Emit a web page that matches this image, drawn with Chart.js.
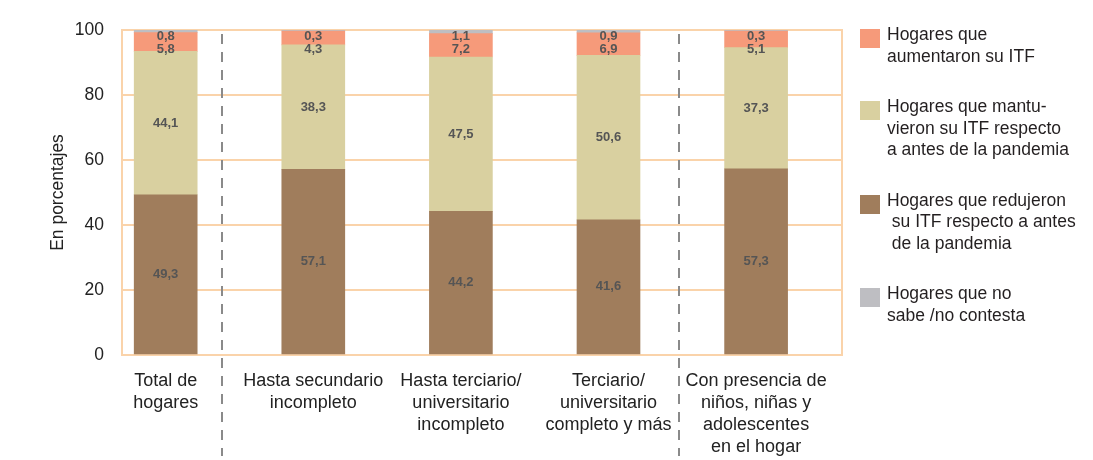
<!DOCTYPE html>
<html><head><meta charset="utf-8">
<script src="https://cdn.jsdelivr.net/npm/chart.js@4"></script>
<style>
html,body{margin:0;padding:0;background:#fff;}
#wrap{position:relative;width:1093px;height:460px;overflow:hidden;}
#c{position:absolute;left:0;top:0;}
#legend{position:absolute;left:860px;top:24px;font:17.5px "Liberation Sans",Arial,sans-serif;color:#231f20;}
.item{display:flex;align-items:flex-start;margin-bottom:29px;}
.sw{width:20px;height:19px;margin-top:5px;margin-right:7px;flex:none;}
.txt{line-height:21.5px;white-space:pre;}
</style></head><body>
<div id="wrap"><canvas id="c" width="1093" height="460"></canvas><div id="legend"></div></div>
<script>
// ---- data ----
const categories = [
  ["Total de", "hogares"],
  ["Hasta secundario", "incompleto"],
  ["Hasta terciario/", "universitario", "incompleto"],
  ["Terciario/", "universitario", "completo y más"],
  ["Con presencia de", "niños, niñas y", "adolescentes", "en el hogar"]
];
const redujeron   = [49.3, 57.1, 44.2, 41.6, 57.3];
const mantuvieron = [44.1, 38.3, 47.5, 50.6, 37.3];
const aumentaron  = [5.8, 4.3, 7.2, 6.9, 5.1];
const noSabe      = [0.8, 0.3, 1.1, 0.9, 0.3];
const yTicks = [0, 20, 40, 60, 80, 100];
const legendRedujeron   = ["Hogares que redujeron", " su ITF respecto a antes", " de la pandemia"];
const legendMantuvieron = ["Hogares que mantu-", "vieron su ITF respecto", "a antes de la pandemia"];
const legendAumentaron  = ["Hogares que", "aumentaron su ITF"];
const legendNoSabe      = ["Hogares que no", "sabe /no contesta"];

// ---- styles ----
const COL_RED = '#A07D5C', COL_MAN = '#D9D0A0', COL_AUM = '#F69A7A', COL_NS = '#BEBEC2';
const FRAME = '#FAD3AA';
const FONT = '"Liberation Sans", Arial, sans-serif';

const datasets = [
  {label: legendRedujeron.join(' ').replace(/\s+/g,' '), legendLines: legendRedujeron, data: redujeron, backgroundColor: COL_RED},
  {label: legendMantuvieron.join(' '), legendLines: legendMantuvieron, data: mantuvieron, backgroundColor: COL_MAN},
  {label: legendAumentaron.join(' '), legendLines: legendAumentaron, data: aumentaron, backgroundColor: COL_AUM},
  {label: legendNoSabe.join(' '), legendLines: legendNoSabe, data: noSabe, backgroundColor: COL_NS}
].map(d => Object.assign(d, {barThickness: 63, borderWidth: 0, stack: 's'}));

const fmt = v => v.toFixed(1).replace('.', ',');

const framePlugin = {
  id: 'frame',
  beforeDatasetsDraw(chart) {
    const {ctx, chartArea: a} = chart;
    ctx.save();
    ctx.strokeStyle = FRAME; ctx.lineWidth = 2;
    ctx.strokeRect(a.left, a.top, a.right - a.left, a.bottom - a.top);
    ctx.restore();
  }
};

const sepPlugin = {
  id: 'separators',
  afterDraw(chart, args, opts) {
    const {ctx, chartArea: a, scales} = chart;
    ctx.save();
    ctx.strokeStyle = '#8a8a8a'; ctx.lineWidth = 2; ctx.setLineDash([10, 8]);
    (opts.at || []).forEach(v => {
      const x = Math.round(scales.x.getPixelForValue(v));
      ctx.beginPath(); ctx.moveTo(x, a.top + 4); ctx.lineTo(x, chart.height - 4); ctx.stroke();
    });
    ctx.restore();
  }
};

const labelPlugin = {
  id: 'valueLabels',
  afterDatasetsDraw(chart) {
    const {ctx, chartArea: a} = chart;
    ctx.save();
    ctx.font = 'bold 13px ' + FONT;
    ctx.fillStyle = '#555555';
    ctx.textAlign = 'center'; ctx.textBaseline = 'middle';
    const n = chart.data.labels.length;
    for (let i = 0; i < n; i++) {
      let prev = -Infinity;
      for (let d = chart.data.datasets.length - 1; d >= 0; d--) {
        const el = chart.getDatasetMeta(d).data[i];
        const top = Math.min(el.y, el.base), bot = Math.max(el.y, el.base);
        let cy = (top + bot) / 2;
        cy = Math.max(cy, prev + 13, a.top + 6);
        ctx.fillText(fmt(chart.data.datasets[d].data[i]), el.x, cy);
        prev = cy;
      }
    }
    ctx.restore();
  }
};

const chart = new Chart(document.getElementById('c'), {
  type: 'bar',
  data: {labels: categories.map((c, i) => i), datasets},
  plugins: [framePlugin, labelPlugin, sepPlugin],
  options: {
    responsive: false,
    animation: false,
    layout: {padding: {top: 30, right: 251, bottom: 2, left: 0}},
    plugins: {
      legend: {display: false},
      tooltip: {enabled: false},
      separators: {at: [0.38, 3.48]}
    },
    scales: {
      x: {
        type: 'linear', stacked: true, offset: false,
        min: -0.296, max: 4.582,
        afterBuildTicks: s => { s.ticks = categories.map((c, i) => ({value: i})); },
        afterFit: s => { s.height = 103; },
        grid: {display: false, drawTicks: false, offset: false},
        border: {display: false},
        ticks: {
          autoSkip: false, maxRotation: 0,
          callback: v => categories[v] || '',
          font: {family: FONT, size: 18, lineHeight: 1.222},
          color: '#222', padding: 15
        }
      },
      y: {
        stacked: true, min: 0, max: 100,
        afterBuildTicks: s => { s.ticks = yTicks.map(v => ({value: v})); },
        afterFit: s => { s.width = 122; },
        grid: {color: FRAME, lineWidth: 2, drawTicks: false},
        border: {color: FRAME, width: 2},
        ticks: {font: {family: FONT, size: 17.5}, color: '#222', padding: 18},
        title: {display: true, text: 'En porcentajes', font: {family: FONT, size: 17.5}, color: '#222', padding: {top: 48, bottom: 0}}
      }
    }
  }
});

// HTML legend built from the chart datasets
const legendOrder = [2, 1, 0, 3];
const lg = document.getElementById('legend');
legendOrder.forEach(idx => {
  const ds = chart.data.datasets[idx];
  const item = document.createElement('div'); item.className = 'item';
  const sw = document.createElement('div'); sw.className = 'sw'; sw.style.background = ds.backgroundColor;
  const tx = document.createElement('div'); tx.className = 'txt'; tx.textContent = ds.legendLines.join('\n');
  item.appendChild(sw); item.appendChild(tx); lg.appendChild(item);
});
</script>
</body></html>
